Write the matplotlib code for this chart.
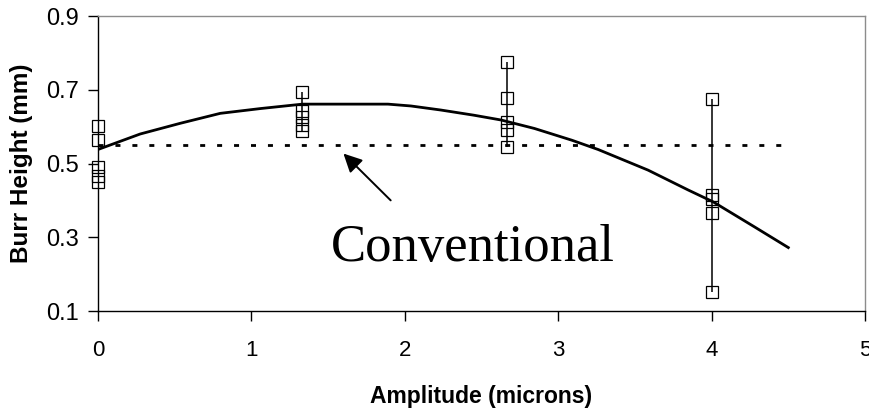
import matplotlib
matplotlib.use("Agg")
import matplotlib.pyplot as plt
import numpy as np

# ---- data ----
amplitudes = [0.0, 1.333, 2.667, 4.0]
heights_0 = [0.602, 0.563, 0.490, 0.465, 0.450]
heights_1 = [0.694, 0.643, 0.625, 0.605, 0.588]
heights_2 = [0.774, 0.677, 0.613, 0.590, 0.545]
heights_3 = [0.674, 0.414, 0.405, 0.366, 0.151]
height_groups = [heights_0, heights_1, heights_2, heights_3]

fit_x = [0.0, 0.275, 0.536, 0.797, 1.059, 1.333, 1.89, 2.04, 2.235, 2.45,
         2.627, 2.845, 3.09, 3.26, 3.586, 3.848, 4.01, 4.28, 4.5]
fit_y = [0.538, 0.580, 0.609, 0.636, 0.649, 0.661, 0.661, 0.656, 0.645, 0.631,
         0.618, 0.595, 0.563, 0.538, 0.482, 0.428, 0.396, 0.328, 0.272]

conv_x = [0.0, 4.5]
conv_y = [0.55, 0.55]

x_ticks = [0, 1, 2, 3, 4, 5]
y_ticks = [0.1, 0.3, 0.5, 0.7, 0.9]

# ---- figure ----
W, H = 870, 411
L, R, T, B = 98, 865, 16, 311
fig = plt.figure(figsize=(W / 100, H / 100), dpi=100)
ax = fig.add_axes([L / W, 1 - B / H, (R - L) / W, (B - T) / H])

ax.set_xlim(0, 5)
ax.set_ylim(0.1, 0.9)

# error bars (min-max)
for xv, grp in zip(amplitudes, height_groups):
    ax.vlines(xv, min(grp), max(grp), color="black", lw=1.1, zorder=3)

# data points
for xv, grp in zip(amplitudes, height_groups):
    ax.plot([xv] * len(grp), grp, linestyle="none", marker="s", ms=8,
            mfc="none", mec="black", mew=0.9, zorder=4, clip_on=False)

# fitted curve
ax.plot(fit_x, fit_y, color="black", lw=2.0, zorder=5)

# conventional (dotted) line
lw_c = 2.0
ax.plot(conv_x, conv_y, color="black", lw=lw_c,
        linestyle=(0, (3.6 / lw_c, 8.6 / lw_c)), zorder=5)

# annotation
ax.annotate("", xy=(1.6, 0.527), xytext=(1.908, 0.40),
            arrowprops=dict(arrowstyle="-|>", color="black", lw=1.4,
                            mutation_scale=28, shrinkA=0, shrinkB=0))
ax.text(1.516, 0.235, "Conventional", family="Liberation Serif",
        fontsize=38, ha="left", va="baseline", color="black")

# axes styling
ax.set_xticks(x_ticks)
ax.set_yticks(y_ticks)
ax.set_xticklabels([str(t) for t in x_ticks])
ax.set_yticklabels([f"{t:.1f}" for t in y_ticks])
for lab in ax.get_xticklabels():
    lab.set_family("Liberation Sans")
    lab.set_fontsize(16)
for lab in ax.get_yticklabels():
    lab.set_family("Liberation Sans")
    lab.set_fontsize(17)
ax.tick_params(axis="x", direction="out", length=7, width=1, pad=14)
ax.tick_params(axis="y", direction="out", length=7, width=1, pad=7)

ax.spines["left"].set_color("black")
ax.spines["bottom"].set_color("black")
ax.spines["top"].set_color("#8c8c8c")
ax.spines["right"].set_color("#8c8c8c")
for s in ax.spines.values():
    s.set_linewidth(1.0)

ax.set_xlabel("Amplitude (microns)", family="Liberation Sans",
              fontweight="bold", fontsize=16.5, va="center")
ax.set_ylabel("Burr Height (mm)", family="Liberation Sans",
              fontweight="bold", fontsize=17.5, va="center")
ax.xaxis.set_label_coords(((R + L) / 2 - L) / (R - L), (B - 396) / (B - T))
ax.yaxis.set_label_coords((22 - L) / (R - L), 0.5)

fig.savefig("out.png", dpi=100)
